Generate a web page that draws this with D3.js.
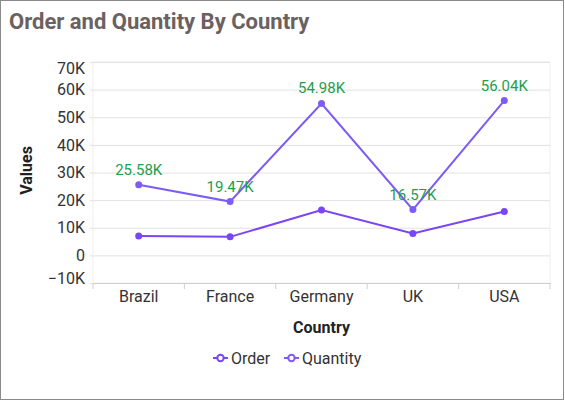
<!DOCTYPE html>
<html>
<head>
<meta charset="utf-8">
<script src="https://cdn.jsdelivr.net/npm/d3@7"></script>
<style>
  body { margin: 0; background: #fff; font-family: Roboto, sans-serif; }
  svg text { font-family: Roboto, sans-serif; }
</style>
</head>
<body>
<svg id="chart" width="565" height="402"></svg>
<script>
const countries = ["Brazil", "France", "Germany", "UK", "USA"]
const orderValues = [7000, 6700, 16400, 7900, 15900]
const quantityValues = [25580, 19470, 54980, 16570, 56040]
const yTicks = [-10000, 0, 10000, 20000, 30000, 40000, 50000, 60000, 70000]

const series = [
  {name: "Order", values: orderValues, color: "#7a45f5"},
  {name: "Quantity", values: quantityValues, color: "#7d5cf6", labels: true}
]

const svg = d3.select("#chart")
const margin = {left: 93, right: 15, top: 62, bottom: 119}
const width = 565 - margin.left - margin.right
const height = 402 - margin.top - margin.bottom

// frame round the whole card
svg.append("rect")
  .attr("x", 0.5).attr("y", 0.5)
  .attr("width", 563).attr("height", 399)
  .attr("fill", "#fff").attr("stroke", "#8a8a8a")

svg.append("text")
  .attr("x", 9).attr("y", 29)
  .attr("font-size", 22).attr("font-weight", "bold")
  .attr("fill", "#6b6161")
  .text("Order and Quantity By Country")

const x = d3.scaleBand().domain(countries).range([0, width])
const y = d3.scaleLinear().domain([-10000, 70000]).range([height, 0])

const g = svg.append("g").attr("transform", `translate(${margin.left},${margin.top})`)

// plot border
g.append("rect")
  .attr("width", width).attr("height", height)
  .attr("fill", "none").attr("stroke", "#efefef")

// y axis with gridlines
const yAxis = g.append("g").call(
  d3.axisLeft(y).tickValues(yTicks).tickSize(3)
    .tickFormat(d => d === 0 ? "0" : d3.format("d")(d / 1000) + "K")
)
yAxis.select(".domain").remove()
yAxis.selectAll(".tick line").attr("stroke", "#e2e2e2")
yAxis.selectAll(".tick line").clone()
  .attr("x1", 0).attr("x2", width).attr("stroke", "#e2e2e2")
yAxis.selectAll(".tick text")
  .attr("font-size", 16).attr("fill", "#333").attr("x", -8)
  .attr("dy", d => d === 70000 ? "0.7em" : d === -10000 ? "0.05em" : "0.32em")

// x axis
const xAxis = g.append("g")
  .attr("transform", `translate(0,${height})`)
  .call(d3.axisBottom(x).tickSize(0).tickPadding(8))
xAxis.select(".domain").attr("stroke", "#cfcfcf")
xAxis.selectAll(".tick text").attr("font-size", 16).attr("fill", "#333")
xAxis.selectAll(".boundary")
  .data(d3.range(countries.length + 1))
  .join("line")
  .attr("x1", i => i * x.bandwidth()).attr("x2", i => i * x.bandwidth())
  .attr("y1", 0).attr("y2", 6)
  .attr("stroke", "#cfcfcf")

svg.append("text")
  .attr("transform", `translate(32,${margin.top + height / 2 - 2}) rotate(-90)`)
  .attr("text-anchor", "middle")
  .attr("font-size", 16).attr("font-weight", "bold").attr("fill", "#222")
  .text("Values")

svg.append("text")
  .attr("x", margin.left + width / 2).attr("y", 333)
  .attr("text-anchor", "middle")
  .attr("font-size", 16).attr("font-weight", "bold").attr("fill", "#222")
  .text("Country")

const cx = d => x(d) + x.bandwidth() / 2
const line = d3.line().x((v, i) => cx(countries[i])).y(v => y(v))

series.forEach(s => {
  g.append("path")
    .attr("d", line(s.values))
    .attr("fill", "none").attr("stroke", s.color).attr("stroke-width", 2)
  g.selectAll(null).data(s.values).join("circle")
    .attr("cx", (v, i) => cx(countries[i])).attr("cy", v => y(v))
    .attr("r", 3.5).attr("fill", s.color)
  if (s.labels) {
    g.selectAll(null).data(s.values).join("text")
      .attr("x", (v, i) => cx(countries[i])).attr("y", v => y(v) - 10)
      .attr("text-anchor", "middle")
      .attr("font-size", 15).attr("fill", "#1e9e4c")
      .text(v => d3.format(".2f")(v / 1000) + "K")
  }
})

// legend
const legendX = [213, 284]
const legend = svg.selectAll(".legend").data(series).join("g")
  .attr("transform", (s, i) => `translate(${legendX[i]},358)`)
legend.append("line")
  .attr("x1", 0).attr("x2", 15)
  .attr("stroke", s => s.color).attr("stroke-width", 2)
legend.append("circle")
  .attr("cx", 7.5).attr("r", 3.2)
  .attr("fill", "#fff").attr("stroke", s => s.color).attr("stroke-width", 2)
legend.append("text")
  .attr("x", 18).attr("dy", "0.35em")
  .attr("font-size", 16).attr("fill", "#333")
  .text(s => s.name)
</script>
</body>
</html>
